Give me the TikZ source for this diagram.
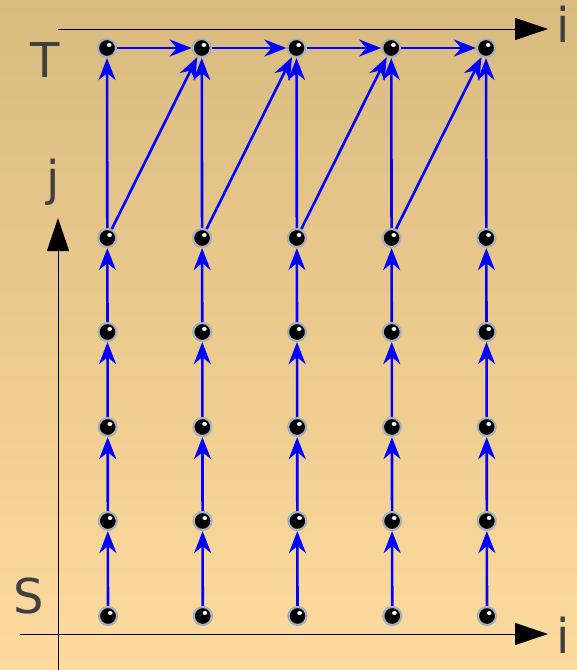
\documentclass[tikz,border=0pt]{standalone}
\usepackage{fontspec}
\newfontfamily\axisfont{DejaVu Sans}
\usetikzlibrary{arrows.meta}
\definecolor{bgtop}{RGB}{217,187,127}
\definecolor{bgbot}{RGB}{254,218,158}
\definecolor{ringgray}{RGB}{168,176,184}
\definecolor{labelgray}{RGB}{64,64,64}

\tikzset{
  gridpt/.style={circle, fill=black, draw=ringgray, line width=2.2pt,
    inner sep=0pt, minimum size=18pt,
    path picture={\fill[white] ([shift={(2.2pt,3.0pt)}]path picture bounding box.center) ellipse (2.4pt and 2pt);}},
  flow/.style={blue, line width=2.6pt, -{Stealth[length=22pt,width=17pt,inset=7pt]}},
  axis/.style={black, line width=1pt, -{Triangle[length=33pt,width=22pt]}},
  axislabel/.style={labelgray, font=\axisfont\fontsize{48}{48}\selectfont,
    inner sep=0pt, anchor=base},
}

\begin{document}
\begin{tikzpicture}[x=1pt,y=-1pt]

% ---------------- background ----------------
\shade[top color=bgtop, bottom color=bgbot] (0,0) rectangle (577,670);
\useasboundingbox (0,0) rectangle (577,670);

% ---------------- axes ----------------
\coordinate (Istart) at (20,634);
\coordinate (Iend)   at (548,634);
\coordinate (Tstart) at (58,29);
\coordinate (Tend)   at (548,29);
\coordinate (Jstart) at (58,670);
\coordinate (Jend)   at (58,218);

\draw[axis] (Istart) -- (Iend);
\draw[axis] (Tstart) -- (Tend);
\draw[axis] (Jstart) -- (Jend);

\node[axislabel] (ilow)  at (563,653) {i};
\node[axislabel] (ihigh) at (563,42)  {i};
\node[axislabel] (jlab)  at (53,195)  {j};
\node[axislabel] (Tlab)  at (45,77)   {T};
\node[axislabel] (Slab)  at (29,613)  {S};

% ---------------- grid points ----------------
% rows 1..5 are the stages, row 6 is the top line T
\foreach \c in {1,...,5} {
  \foreach \r/\y in {1/616,2/521,3/427,4/332,5/238,6/48} {
    \node[gridpt] (n\c\r) at ({107+94.75*(\c-1)+(\y-48)/568}, \y) {};
  }
}

% ---------------- flow arrows ----------------
% upward in every column
\foreach \c in {1,...,5} {
  \foreach \r [evaluate=\r as \s using int(\r+1)] in {1,...,5}
    \draw[flow] (n\c\r) -- (n\c\s);
}

% jumps to the next column and the top line
\foreach \c [evaluate=\c as \d using int(\c+1)] in {1,...,4} {
  \draw[flow] (n\c5) -- (n\d6);
  \draw[flow] (n\c6) -- (n\d6);
}

\end{tikzpicture}
\end{document}
